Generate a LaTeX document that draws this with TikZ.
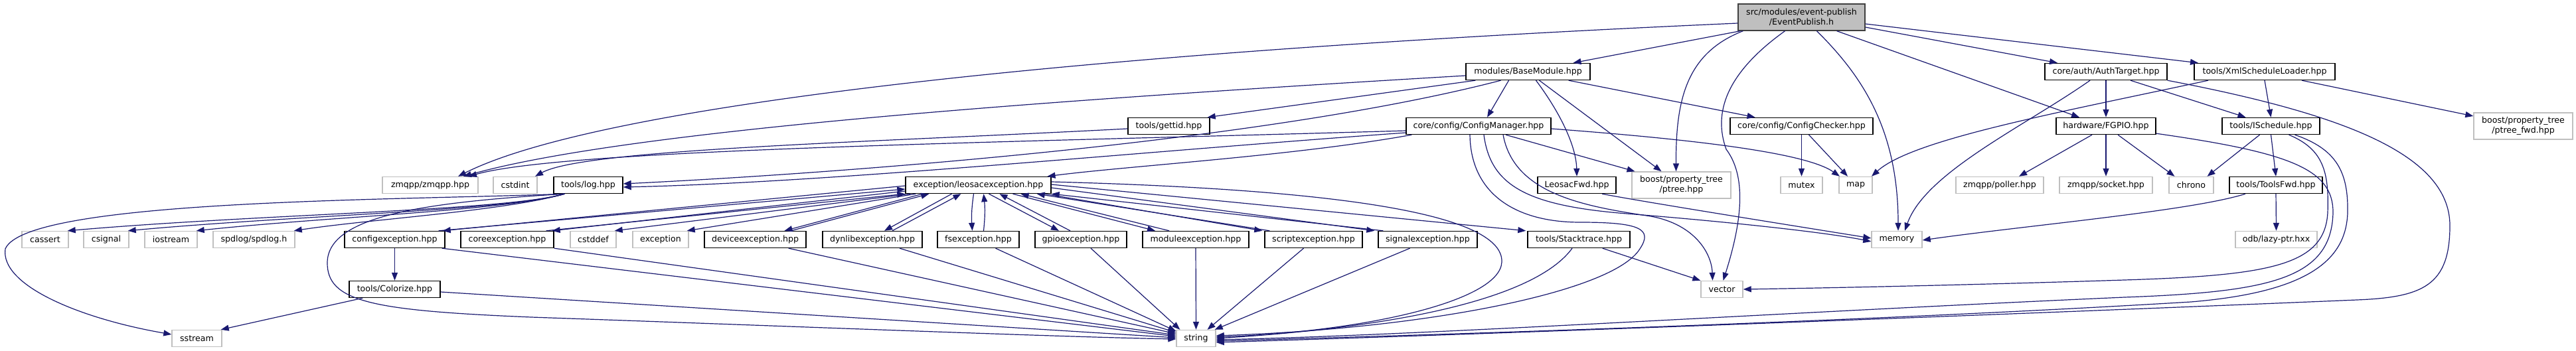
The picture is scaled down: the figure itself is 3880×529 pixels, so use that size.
\documentclass[tikz,border=0pt]{standalone}
\usepackage{fontspec}
\setmainfont{DejaVu Sans}
\usetikzlibrary{arrows.meta}
\definecolor{edgeblue}{HTML}{191970}
\definecolor{extgray}{HTML}{BFBFBF}
\definecolor{topfill}{HTML}{BFBFBF}
\definecolor{topdraw}{HTML}{404040}
\newcommand{\nodefont}{\fontsize{12.6}{15}\selectfont}
\begin{document}
\begin{tikzpicture}[x=1pt,y=-1pt,
  nbase/.style={rectangle, inner sep=0pt, minimum height=25pt, font=\nodefont, line width=1.4pt, align=center},
  doc/.style={nbase, draw=black},
  ext/.style={nbase, draw=extgray},
  topnode/.style={nbase, draw=topdraw, fill=topfill},
  dep/.style={draw=edgeblue, line width=1.2pt, -{Triangle[length=12pt,width=9pt]}}]
\fill[white] (0,0) rectangle (3880,529);
\useasboundingbox (0,0) rectangle (3880,529);
% row 1
\node[topnode, minimum width=191pt, minimum height=40pt] (E) at (2713.5,26) {src/modules/event-publish\\/EventPublish.h};
% row 2
\node[doc, minimum width=187pt] (B) at (2301.5,108) {modules/BaseModule.hpp};
\node[doc, minimum width=184pt] (AT) at (3172,108) {core/auth/AuthTarget.hpp};
\node[doc, minimum width=212pt] (XL) at (3411,108) {tools/XmlScheduleLoader.hpp};
% row 3
\node[doc, minimum width=123pt] (GT) at (1760.5,190) {tools/gettid.hpp};
\node[doc, minimum width=218pt] (CM) at (2227,190) {core/config/ConfigManager.hpp};
\node[doc, minimum width=215pt] (CC) at (2713.5,190) {core/config/ConfigChecker.hpp};
\node[doc, minimum width=150pt] (FG) at (3172,190) {hardware/FGPIO.hpp};
\node[doc, minimum width=147pt] (IS) at (3420.5,190) {tools/ISchedule.hpp};
\node[ext, minimum width=149pt, minimum height=40pt] (PF) at (3800.5,190) {boost/property\_tree\\/ptree\_fwd.hpp};
% row 4
\node[ext, minimum width=144pt] (ZM) at (648,279) {zmqpp/zmqpp.hpp};
\node[ext, minimum width=66pt] (CI) at (776,279) {cstdint};
\node[doc, minimum width=104pt] (LG) at (886,279) {tools/log.hpp};
\node[doc, minimum width=219pt] (LE) at (1473.5,279) {exception/leosacexception.hpp};
\node[doc, minimum width=118pt] (LF) at (2375,279) {LeosacFwd.hpp};
\node[ext, minimum width=149pt, minimum height=40pt] (PT) at (2532.5,279) {boost/property\_tree\\/ptree.hpp};
\node[ext, minimum width=63pt] (MU) at (2713.5,279) {mutex};
\node[ext, minimum width=50pt] (MP) at (2795,279) {map};
\node[ext, minimum width=132pt] (PO) at (3012,279) {zmqpp/poller.hpp};
\node[ext, minimum width=140pt] (SO) at (3172,279) {zmqpp/socket.hpp};
\node[ext, minimum width=67pt] (CH) at (3300.5,279) {chrono};
\node[doc, minimum width=140pt] (TF) at (3428,279) {tools/ToolsFwd.hpp};
% row 5
\node[ext, minimum width=70pt] (CA) at (68,361) {cassert};
\node[ext, minimum width=68pt] (CS) at (160,361) {csignal};
\node[ext, minimum width=79pt] (IO) at (257.5,361) {iostream};
\node[ext, minimum width=123pt] (SP) at (382.5,361) {spdlog/spdlog.h};
\node[doc, minimum width=151pt] (CFE) at (594.5,361) {configexception.hpp};
\node[doc, minimum width=140pt] (COE) at (764,361) {coreexception.hpp};
\node[ext, minimum width=69pt] (CD) at (893.5,361) {cstddef};
\node[ext, minimum width=84pt] (EX) at (995,361) {exception};
\node[doc, minimum width=153pt] (DE) at (1137.5,361) {deviceexception.hpp};
\node[doc, minimum width=150pt] (DY) at (1314,361) {dynlibexception.hpp};
\node[doc, minimum width=123pt] (FS) at (1473.5,361) {fsexception.hpp};
\node[doc, minimum width=138pt] (GP) at (1628,361) {gpioexception.hpp};
\node[doc, minimum width=160pt] (MO) at (1801,361) {moduleexception.hpp};
\node[doc, minimum width=147pt] (SC) at (1978.5,361) {scriptexception.hpp};
\node[doc, minimum width=149pt] (SI) at (2150.5,361) {signalexception.hpp};
\node[doc, minimum width=154pt] (ST) at (2378,361) {tools/Stacktrace.hpp};
\node[ext, minimum width=76pt] (ME) at (2857,361) {memory};
\node[ext, minimum width=123pt] (OD) at (3428.5,361) {odb/lazy-ptr.hxx};
% row 6
\node[doc, minimum width=137pt] (CZ) at (594.5,436) {tools/Colorize.hpp};
\node[ext, minimum width=63pt] (VE) at (2593.5,436) {vector};
% row 7
\node[ext, minimum width=75pt] (SS) at (296.5,510) {sstream};
\node[ext, minimum width=59pt] (STR) at (1801.5,510) {string};

% ---- EventPublish.h
\draw[dep] ([xshift=4pt]E.south west) -- ([xshift=68pt]B.north);
\draw[dep] ([xshift=8pt]E.south west) .. controls (2540,80) and (2524,150) .. ([xshift=-8pt]PT.north);
\draw[dep] ([xshift=-25pt]E.south) .. controls (2600,110) and (2580,170) .. (2600,225) .. controls (2630,265) and (2625,330) .. ([xshift=2pt]VE.north);
\draw[dep] ([xshift=23pt]E.south) .. controls (2800,110) and (2859,190) .. ([xshift=2pt]ME.north);
\draw[dep] ([xshift=53pt]E.south) -- ([xshift=-40pt]FG.north);
\draw[dep] ([yshift=-15pt]E.east) -- ([xshift=-73pt]AT.north);
\draw[dep] ([yshift=-10pt]E.east) -- ([xshift=-100pt]XL.north);
\draw[dep] ([yshift=-9pt]E.west) .. controls (1600,80) and (900,160) .. ([xshift=42pt]ZM.north);
% ---- BaseModule
\draw[dep] ([yshift=-6pt]B.west) .. controls (1600,150) and (950,195) .. ([xshift=50pt]ZM.north);
\draw[dep] ([xshift=15pt]B.south west) -- ([xshift=-4pt]GT.north east);
\draw[dep] ([xshift=-41pt]B.south) .. controls (1900,215) and (1250,262) .. ([yshift=2pt]LG.east);
\draw[dep] ([xshift=-29pt]B.south) -- ([xshift=13pt]CM.north);
\draw[dep] ([xshift=12pt]B.south) .. controls (2350,170) and (2374,220) .. (LF.north);
\draw[dep] ([xshift=17pt]B.south) -- ([xshift=-30pt]PT.north);
\draw[dep] ([xshift=-33pt]B.south east) -- ([xshift=-70pt]CC.north);
% ---- ConfigManager
\draw[dep] ([yshift=-7pt]CM.west) .. controls (1500,215) and (850,225) .. ([xshift=58pt]ZM.north);
\draw[dep] ([yshift=-10pt]CM.west) .. controls (1700,230) and (1250,275) .. ([yshift=-3pt]LG.east);
\draw[dep] ([xshift=9pt]CM.south west) .. controls (1950,235) and (1700,250) .. ([xshift=104pt]LE.north);
\draw[dep] ([yshift=-4pt]CM.east) .. controls (2550,210) and (2720,230) .. ([xshift=-24pt]MP.north);
\draw[dep] ([xshift=41pt]CM.south) -- ([xshift=-70pt]PT.north);
\draw[dep] ([xshift=-13pt]CM.south) .. controls (2215,290) and (2280,335) .. (2380,335) .. controls (2470,335) and (2490,345) .. (2470,375) .. controls (2430,440) and (2150,495) .. ([yshift=4pt]STR.east);
\draw[dep] ([xshift=8pt]CM.south) .. controls (2245,280) and (2300,310) .. (2450,322) .. controls (2600,334) and (2750,350) .. ([yshift=-3pt]ME.west);
\draw[dep] ([xshift=37pt]CM.south) .. controls (2280,290) and (2380,310) .. (2480,325) .. controls (2550,335) and (2578,380) .. ([xshift=-14pt]VE.north);
% ---- other row 2/3
\draw[dep] ([xshift=38pt]LF.south) .. controls (2480,305) and (2700,340) .. ([yshift=2pt]ME.west);
\draw[dep] (CC.south) -- (MU.north);
\draw[dep] ([xshift=11pt]CC.south) -- ([xshift=-12pt]MP.north);
\draw[dep] (XL.south) -- (IS.north);
\draw[dep] ([xshift=56pt]XL.south) -- ([yshift=15pt]PF.west);
\draw[dep] ([xshift=-85pt]XL.south) .. controls (3100,170) and (2880,210) .. ([xshift=24pt]MP.north);
\draw[dep] (AT.south) -- (FG.north);
\draw[dep] ([xshift=-24pt]AT.south) .. controls (3050,190) and (2900,260) .. ([xshift=12pt]ME.north);
\draw[dep] ([xshift=37pt]AT.south) -- ([xshift=-38pt]IS.north);
\draw[dep] (AT.south east) .. controls (3520,170) and (3690,230) .. (3690,340) .. controls (3690,430) and (3650,448) .. (3550,452) .. controls (3000,475) and (2200,505) .. ([yshift=-6pt]STR.east);
\draw[dep] ([xshift=-21pt]FG.south) -- ([xshift=29pt]PO.north);
\draw[dep] (FG.south) -- (SO.north);
\draw[dep] ([xshift=18pt]FG.south) -- ([xshift=-25pt]CH.north);
\draw[dep] ([yshift=2pt]FG.south east) .. controls (3450,230) and (3514,255) .. (3514,320) .. controls (3512,420) and (3420,440) .. (3200,448) .. controls (2700,470) and (2150,505) .. ([yshift=-2pt]STR.east);
\draw[dep] ([xshift=-17pt]IS.south) -- ([xshift=24pt]CH.north);
\draw[dep] (IS.south) -- (TF.north);
\draw[dep] ([xshift=27pt]IS.south) .. controls (3500,225) and (3508,260) .. (3506,320) .. controls (3502,400) and (3420,415) .. (3200,422) .. controls (2950,430) and (2750,434) .. (VE.east);
\draw[dep] ([xshift=36pt]IS.south) .. controls (3520,225) and (3537,260) .. (3536,320) .. controls (3534,390) and (3480,440) .. (3300,455) .. controls (2800,485) and (2150,505) .. ([yshift=-4pt]STR.east);
\draw[dep] (TF.south) -- (OD.north);
\draw[dep] ([xshift=-46pt]TF.south) .. controls (3300,318) and (3050,340) .. ([yshift=-1pt]ME.east);
\draw[dep] ([yshift=-4pt]GT.west) .. controls (1300,215) and (880,225) .. ([xshift=30pt]CI.north);
% ---- tools/log.hpp
\draw[dep] ([xshift=17pt]LG.south west) .. controls (760,318) and (400,322) .. ([xshift=-2pt]CA.north east);
\draw[dep] ([xshift=17pt]LG.south west) .. controls (760,318) and (450,324) .. ([xshift=-2pt]CS.north east);
\draw[dep] ([xshift=17pt]LG.south west) .. controls (760,318) and (500,326) .. ([xshift=-2pt]IO.north east);
\draw[dep] ([xshift=17pt]LG.south west) .. controls (760,318) and (560,330) .. ([xshift=-2pt]SP.north east);
\draw[dep] ([xshift=17pt]LG.south west) .. controls (600,302) and (40,300) .. (8,375) .. controls (0,430) and (120,480) .. ([yshift=6pt]SS.west);
\draw[dep] ([xshift=17pt]LG.south west) .. controls (640,305) and (495,325) .. (493,395) .. controls (492,455) and (560,468) .. (800,478) .. controls (1200,492) and (1600,508) .. ([yshift=-1pt]STR.west);
% ---- leosacexception and the exception headers
\draw[dep] ([yshift=-1pt]LE.west) -- ([xshift=-4pt]CFE.north east);
\draw[dep] ([xshift=-10pt]CFE.north east) -- ([yshift=-6pt]LE.west);
\draw[dep] ([yshift=-9pt]LE.west) -- ([xshift=-3pt]COE.north east);
\draw[dep] ([xshift=-12pt]COE.north east) -- (LE.south west);
\draw[dep] ([xshift=8pt]LE.south west) -- ([xshift=-3pt]CD.north east);
\draw[dep] ([xshift=16pt]LE.south west) -- ([xshift=-3pt]EX.north east);
\draw[dep] ([xshift=26pt]LE.south west) -- ([xshift=44pt]DE.north);
\draw[dep] ([xshift=54pt]DE.north) -- ([xshift=36pt]LE.south west);
\draw[dep] ([xshift=-40pt]LE.south) -- ([xshift=18pt]DY.north);
\draw[dep] ([xshift=30pt]DY.north) -- ([xshift=-26pt]LE.south);
\draw[dep] ([xshift=-7pt]LE.south) to[bend right=6] ([xshift=-9pt]FS.north);
\draw[dep] ([xshift=8pt]FS.north) to[bend right=6] ([xshift=8pt]LE.south);
\draw[dep] ([xshift=16pt]LE.south) -- ([xshift=-33pt]GP.north);
\draw[dep] ([xshift=-16pt]GP.north) -- ([xshift=32pt]LE.south);
\draw[dep] ([xshift=52pt]LE.south) -- ([xshift=-61pt]MO.north);
\draw[dep] ([xshift=-40pt]MO.north) -- ([xshift=64pt]LE.south);
\draw[dep] ([xshift=-10pt]LE.south east) -- ([xshift=-3pt]SC.north west);
\draw[dep] ([xshift=8pt]SC.north west) -- ([xshift=-22pt]LE.south east);
\draw[dep] ([yshift=-4pt]LE.east) -- ([xshift=-5pt]SI.north west);
\draw[dep] ([xshift=8pt]SI.north west) -- (LE.south east);
\draw[dep] ([yshift=1pt]LE.east) -- ([xshift=-2pt]ST.north west);
\draw[dep] ([yshift=5pt]LE.east) .. controls (2000,285) and (2265,320) .. (2262,395) .. controls (2259,455) and (2050,500) .. ([yshift=2pt]STR.east);
% ---- to string
\draw[dep] ([xshift=-5pt]CFE.south east) -- ([yshift=3pt]STR.west);
\draw[dep] (COE.south east) -- ([yshift=5pt]STR.west);
\draw[dep] ([xshift=-27pt]DE.south east) -- ([yshift=7pt]STR.west);
\draw[dep] ([xshift=41pt]DY.south) -- ([yshift=9pt]STR.west);
\draw[dep] ([xshift=26pt]FS.south) -- ([yshift=11pt]STR.west);
\draw[dep] ([xshift=15pt]GP.south) -- ([xshift=6pt]STR.north west);
\draw[dep] (MO.south) -- (STR.north);
\draw[dep] ([xshift=-15pt]SC.south) -- ([xshift=17pt]STR.north);
\draw[dep] ([xshift=-27pt]SI.south) -- ([xshift=-2pt]STR.north east);
\draw[dep] (CFE.south) -- (CZ.north);
\draw[dep] ([xshift=21pt]CZ.south west) -- ([xshift=-2pt]SS.north east);
\draw[dep] ([yshift=-4pt]CZ.east) -- ([yshift=1pt]STR.west);
\draw[dep] ([xshift=-42pt]ST.south east) -- (VE.north west);
\draw[dep] ([xshift=-10pt]ST.south) .. controls (2320,440) and (2150,490) .. (STR.east);
\end{tikzpicture}
\end{document}
